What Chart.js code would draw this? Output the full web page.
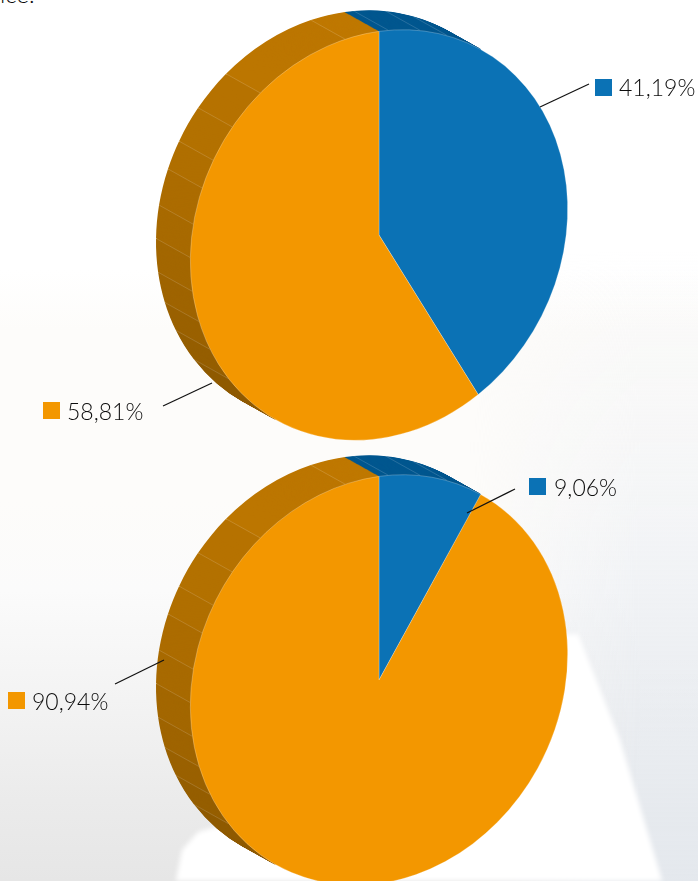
<!DOCTYPE html>
<html>
<head>
<meta charset="utf-8">
<title>Pie charts</title>
<script src="https://cdn.jsdelivr.net/npm/chart.js@4"></script>
<style>
  html, body { margin: 0; padding: 0; }
  #page {
    position: relative; width: 698px; height: 881px; overflow: hidden;
    font-family: Lato, "Open Sans", sans-serif; font-weight: 300; color: #0c0c0c;
    background: linear-gradient(180deg, #fff 0, #fff 270px, #fdfcfa 330px, #fdfcfa 500px, #fbfbfb 590px, #f3f3f3 700px, #ebebeb 800px, #e6e6e6 881px);
  }
  #page::before {
    content: ""; position: absolute; left: 0; top: 0; width: 698px; height: 881px;
    background: linear-gradient(180deg, rgba(240,242,245,0) 250px, rgba(240,242,245,.7) 520px, rgba(228,232,237,1) 881px);
    -webkit-mask-image: linear-gradient(90deg, transparent 470px, #000 640px);
    mask-image: linear-gradient(90deg, transparent 470px, #000 640px);
  }
  #glow { position: absolute; left: 0; top: 0; width: 698px; height: 881px; filter: blur(2.5px); }
  #glow div {
    width: 698px; height: 881px; background: #fff;
    clip-path: polygon(172px 900px, 182px 850px, 198px 832px, 215px 827px, 300px 825px, 480px 640px, 578px 634px, 620px 740px, 668px 900px);
  }
  canvas { position: absolute; left: 0; top: 0; }
  svg { position: absolute; left: 0; top: 0; }
  .swatch { position: absolute; width: 17px; height: 17px; }
  .label { position: absolute; font-size: 23px; line-height: 28px; white-space: nowrap; }
  #cut { position: absolute; left: 0; top: -20px; font-size: 24px; line-height: 28px; }
</style>
</head>
<body>
<div id="page">
  <div id="glow"><div></div></div>
  <div id="cut">ice.</div>
  <canvas id="rimTop" width="698" height="881"></canvas>
  <canvas id="faceTop" width="698" height="881"></canvas>
  <canvas id="rimBottom" width="698" height="881"></canvas>
  <canvas id="faceBottom" width="698" height="881"></canvas>
  <svg id="leaders" width="698" height="881"></svg>
</div>
<script>
// values
const categories = ['Blue', 'Orange'];
const sharesTop = [41.19, 58.81];
const sharesBottom = [9.06, 90.94];
// side wall of the pie, facet sizes in degrees going clockwise from 12 o'clock
const rimFacets = [2.7, 9.8, 8.5, 12, 180, 20, 10.5, 8.9, 9, 9.6, 9.3, 10.2, 8.1, 10.4, 12, 28.6, 10.4];

const faceColors = ['#0B72B5', '#F39700'];
// the long facet sits behind the face and is never seen
const rimColors = ['#00578F', '#00578F', '#00578F', '#00578F', 'rgba(0,0,0,0)', '#8F5A00', '#955E00', '#9A6100',
  '#9F6400', '#A36700', '#A86A00', '#AC6C00', '#B06F00', '#B37100', '#B67200', '#BC7600', '#BF7800'];
const noLineFacets = [0, 4, 5];

// the flat pie is sheared into this ellipse, then pushed back for the wall
const tilt = { a: 0.945, b: -0.13, d: 1.02 };
const depth = { x: -34, y: -19, layers: 40 };

const tiltPlugin = {
  id: 'tilt',
  beforeDatasetsDraw(chart, args, opts) {
    const ctx = chart.ctx;
    const arcs = chart.getDatasetMeta(0).data;
    const first = opts.rim ? depth.layers : 0;
    const last = opts.rim ? 1 : 0;
    for (let k = first; k >= last; k--) {
      ctx.save();
      ctx.translate(opts.cx + depth.x * k / depth.layers, opts.cy + depth.y * k / depth.layers);
      ctx.transform(tilt.a, tilt.b, 0, tilt.d, 0, 0);
      ctx.translate(-arcs[0].x, -arcs[0].y);
      arcs.forEach(arc => arc.draw(ctx));
      ctx.restore();
    }
    if (opts.rim) {
      // thin light lines between the facets
      ctx.save();
      ctx.strokeStyle = 'rgba(255,255,255,0.22)';
      ctx.lineWidth = 0.7;
      arcs.forEach((arc, i) => {
        if (noLineFacets.includes(i)) return;
        const X = arc.outerRadius * Math.cos(arc.startAngle);
        const Y = arc.outerRadius * Math.sin(arc.startAngle);
        const sx = opts.cx + tilt.a * X;
        const sy = opts.cy + tilt.b * X + tilt.d * Y;
        ctx.beginPath();
        ctx.moveTo(sx, sy);
        ctx.lineTo(sx + depth.x, sy + depth.y);
        ctx.stroke();
      });
      ctx.restore();
    }
    return false;
  }
};

function makePie(id, values, colors, cx, cy, rim) {
  return new Chart(document.getElementById(id), {
    type: 'pie',
    data: {
      labels: values.map((v, i) => categories[i] || String(i)),
      datasets: [{
        data: values,
        backgroundColor: colors,
        borderWidth: rim ? 0 : 0.7,
        borderColor: 'rgba(255,255,255,0.35)',
        clip: false
      }]
    },
    options: {
      responsive: false,
      animation: false,
      layout: { padding: { left: 149, right: 149, top: 240.5, bottom: 240.5 } },
      plugins: {
        legend: { display: false },
        tooltip: { enabled: false },
        tilt: { cx: cx, cy: cy, rim: rim }
      }
    },
    plugins: [tiltPlugin]
  });
}

makePie('rimTop', rimFacets, rimColors, 379, 235, true);
makePie('faceTop', sharesTop, faceColors, 379, 235, false);
makePie('rimBottom', rimFacets, rimColors, 379, 680, true);
makePie('faceBottom', sharesBottom, faceColors, 379, 680, false);

// labels with their swatches and leader lines
const callouts = [
  { value: sharesTop[0], color: faceColors[0], swatch: [595, 79], text: [619, 73], line: [540, 107, 589, 84] },
  { value: sharesTop[1], color: faceColors[1], swatch: [43, 402], text: [67, 397], line: [163, 406, 212, 383] },
  { value: sharesBottom[0], color: faceColors[0], swatch: [529, 478], text: [554, 473], line: [467, 513, 515, 489] },
  { value: sharesBottom[1], color: faceColors[1], swatch: [8, 692], text: [32, 687], line: [115, 684, 164, 660] }
];
const page = document.getElementById('page');
const leaders = document.getElementById('leaders');
callouts.forEach(c => {
  const sw = document.createElement('div');
  sw.className = 'swatch';
  sw.style.cssText = `left:${c.swatch[0]}px;top:${c.swatch[1]}px;background:${c.color}`;
  page.appendChild(sw);
  const lab = document.createElement('div');
  lab.className = 'label';
  lab.style.cssText = `left:${c.text[0]}px;top:${c.text[1]}px`;
  lab.textContent = c.value.toFixed(2).replace('.', ',') + '%';
  page.appendChild(lab);
  const ln = document.createElementNS('http://www.w3.org/2000/svg', 'line');
  ln.setAttribute('x1', c.line[0]);
  ln.setAttribute('y1', c.line[1]);
  ln.setAttribute('x2', c.line[2]);
  ln.setAttribute('y2', c.line[3]);
  ln.setAttribute('stroke', '#111');
  ln.setAttribute('stroke-width', '1.2');
  leaders.appendChild(ln);
});
</script>
</body>
</html>
